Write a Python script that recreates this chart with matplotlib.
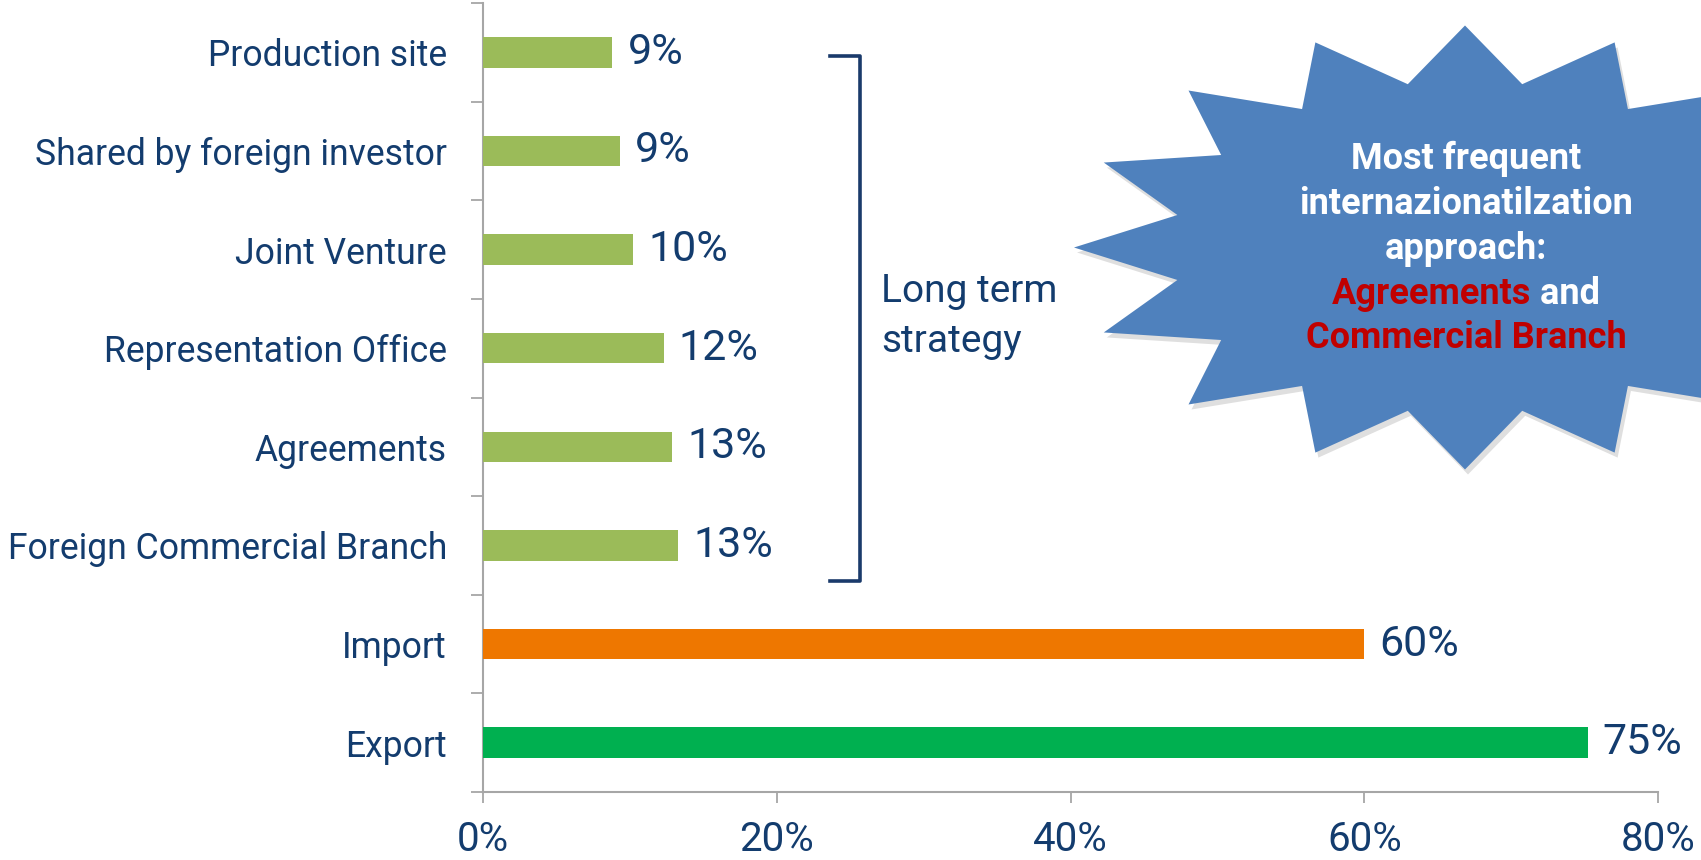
import matplotlib
matplotlib.use("Agg")
import matplotlib.pyplot as plt
import numpy as np
from matplotlib.patches import Polygon
from matplotlib.lines import Line2D

# ---------------- data ----------------
categories = ["Production site", "Shared by foreign investor", "Joint Venture",
              "Representation Office", "Agreements", "Foreign Commercial Branch",
              "Import", "Export"]
values = [8.8, 9.3, 10.2, 12.3, 12.9, 13.3, 60.0, 75.2]
value_labels = ["9%", "9%", "10%", "12%", "13%", "13%", "60%", "75%"]
bar_colors = ["#9BBB59"] * 6 + ["#EE7700", "#00B050"]
x_ticks = [0, 20, 40, 60, 80]
x_tick_labels = ["0%", "20%", "40%", "60%", "80%"]
bracket_label = "Long term\nstrategy"
star_lines_white = ["Most frequent", "internazionatilzation", "approach:"]
star_red_1, star_white_1 = "Agreements", " and"
star_red_2 = "Commercial Branch"

NAVY = "#133C6E"
GRAY = "#A6A6A6"
FONT = ["Roboto", "DejaVu Sans"]
NARROW = ["Liberation Sans Narrow", "Roboto", "DejaVu Sans"]
plt.rcParams["font.family"] = FONT

W, H = 1701, 860
fig = plt.figure(figsize=(W / 100, H / 100), dpi=100)
ax = fig.add_axes([483 / W, 1 - 792 / H, (1658 - 483) / W, (792 - 3) / H])

y = np.arange(len(categories))
ax.barh(y, values, height=0.31, color=bar_colors, zorder=3)
ax.set_xlim(0, 80)
ax.set_ylim(len(categories) - 0.5, -0.5)

for yi, v, lab in zip(y, values, value_labels):
    ax.annotate(lab, xy=(v, yi), xytext=(11, 0), textcoords="offset points",
                ha="left", va="center", fontsize=31, color=NAVY, family=FONT)

# axes styling
for s in ["top", "right"]:
    ax.spines[s].set_visible(False)
for s in ["left", "bottom"]:
    ax.spines[s].set_color(GRAY)
    ax.spines[s].set_linewidth(1.5)

ax.set_xticks(x_ticks)
ax.set_xticklabels(x_tick_labels, fontsize=29, color=NAVY, family=NARROW)
ax.tick_params(axis="x", length=8, width=1.3, color=GRAY, pad=12)

ax.set_yticks(np.arange(-0.5, len(categories) + 0.5, 1.0))
ax.set_yticklabels([])
ax.tick_params(axis="y", which="major", length=9, width=1.3, color=GRAY)
ax.set_yticks(y, minor=True)
ax.set_yticklabels(categories, minor=True, fontsize=25.6, color=NAVY, family=FONT)
ax.tick_params(axis="y", which="minor", length=0, pad=26)

# bracket for long term strategy
bx, bl = 25.7, 23.6
btop, bbot = 0.04, 5.36
ax.add_line(Line2D([bl, bx, bx, bl], [btop, btop, bbot, bbot], color="#1A3A6B",
                   lw=2.6, solid_joinstyle="round", clip_on=False, zorder=4))
ax.text(27.1, 2.68, bracket_label, ha="left", va="center", fontsize=28,
        color=NAVY, linespacing=1.45, family=FONT)

# starburst callout (figure-pixel geometry)
cx, cy, rx, ry, n, inner = 1465, H - 247.5, 391, 222, 16, 0.75
ang = np.pi / 2 + np.arange(2 * n) * np.pi / n
rad = np.where(np.arange(2 * n) % 2 == 0, 1.0, inner)
px = cx + rx * rad * np.cos(ang)
py = cy + ry * rad * np.sin(ang)
shadow = Polygon(np.c_[(px + 3) / W, (py - 5) / H], closed=True,
                 transform=fig.transFigure, facecolor="#808080", alpha=0.25,
                 edgecolor="none", zorder=5)
star = Polygon(np.c_[px / W, py / H], closed=True, transform=fig.transFigure,
               facecolor="#4F81BD", edgecolor="none", zorder=6)
fig.patches.extend([shadow, star])

line_y = [159, 204, 249, 294, 338]
for txt, ly in zip(star_lines_white, line_y[:3]):
    fig.text(1466 / W, 1 - ly / H, txt, ha="center", va="center", fontsize=26,
             fontweight="bold", color="white", zorder=7, family=FONT)

t1 = fig.text(0, 1 - line_y[3] / H, star_red_1, ha="left", va="center", fontsize=26,
              fontweight="bold", color="#C00000", zorder=7, family=FONT)
t2 = fig.text(0, 1 - line_y[3] / H, star_white_1, ha="left", va="center", fontsize=26,
              fontweight="bold", color="white", zorder=7, family=FONT)
r = fig.canvas.get_renderer()
w1 = t1.get_window_extent(r).width
w2 = t2.get_window_extent(r).width
x0 = 1466 - (w1 + w2) / 2
t1.set_x(x0 / W)
t2.set_x((x0 + w1) / W)
fig.text(1466 / W, 1 - line_y[4] / H, star_red_2, ha="center", va="center", fontsize=26,
         fontweight="bold", color="#C00000", zorder=7, family=FONT)

fig.savefig("out.png", dpi=100)
